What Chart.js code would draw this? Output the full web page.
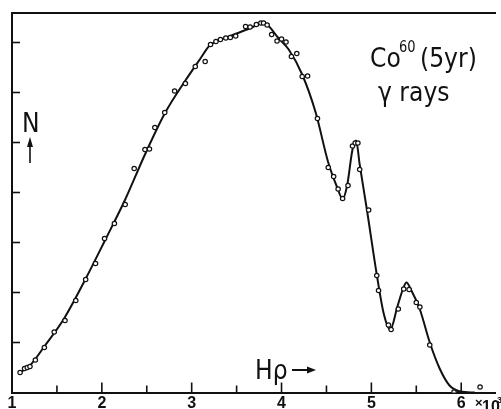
<!DOCTYPE html>
<html>
<head>
<meta charset="utf-8">
<script src="https://cdn.jsdelivr.net/npm/chart.js@4"></script>
<style>
  html, body { margin: 0; padding: 0; background: #fff; }
  #wrap { width: 501px; height: 409px; }
</style>
</head>
<body>
<div id="wrap"><canvas id="spectrum" width="501" height="409"></canvas></div>
<script>
// Co60 gamma ray spectrum, counts N against H-rho (x10^3)

// measured points (open circles)
const hrho = [1.09, 1.14, 1.17, 1.20, 1.26, 1.36, 1.47, 1.59, 1.71, 1.82, 1.93, 2.03, 2.14, 2.26, 2.36,
  2.48, 2.53, 2.59, 2.70, 2.81, 2.93, 3.04, 3.15, 3.21, 3.27, 3.32, 3.38, 3.43, 3.49, 3.60, 3.65,
  3.72, 3.77, 3.80, 3.84, 3.89, 3.95, 4.00, 4.05, 4.11, 4.17, 4.23, 4.29, 4.40, 4.52, 4.58, 4.63,
  4.68, 4.74, 4.79, 4.82, 4.85, 4.87, 4.97, 5.06, 5.08, 5.19, 5.22, 5.30, 5.36, 5.42, 5.50, 5.54,
  5.65, 5.92, 6.21];
const counts = [0.40, 0.48, 0.50, 0.52, 0.65, 0.90, 1.21, 1.44, 1.84, 2.26, 2.58, 3.08, 3.38, 3.76, 4.48,
  4.86, 4.87, 5.30, 5.60, 6.03, 6.18, 6.52, 6.62, 6.96, 7.02, 7.06, 7.09, 7.10, 7.13, 7.32, 7.31,
  7.36, 7.39, 7.39, 7.35, 7.16, 7.03, 7.07, 7.01, 6.72, 6.78, 6.32, 6.33, 5.48, 4.50, 4.32, 4.07,
  3.88, 4.14, 4.93, 4.99, 4.99, 4.46, 3.65, 2.34, 2.04, 1.35, 1.26, 1.67, 2.07, 2.06, 1.80, 1.71,
  0.95, 0.01, 0.11];

// hand drawn smooth curve
const curveHrho = [1.09, 1.20, 1.36, 1.58, 1.81, 2.04, 2.26, 2.48, 2.70, 2.93, 3.09, 3.20, 3.33, 3.50,
  3.67, 3.79, 3.85, 3.96, 4.08, 4.23, 4.38, 4.52, 4.62, 4.68, 4.73, 4.79, 4.83, 4.87, 4.95, 5.06,
  5.14, 5.21, 5.29, 5.35, 5.39, 5.44, 5.54, 5.65, 5.76, 5.87, 5.99, 6.15];
const curveN = [0.40, 0.54, 0.92, 1.48, 2.24, 3.06, 3.86, 4.76, 5.58, 6.24, 6.66, 6.94, 7.06, 7.18,
  7.30, 7.39, 7.34, 7.10, 6.86, 6.36, 5.60, 4.60, 4.10, 3.87, 4.14, 4.86, 5.04, 4.56, 3.66, 2.36,
  1.56, 1.26, 1.72, 2.06, 2.20, 2.06, 1.66, 1.00, 0.48, 0.14, 0.02, 0.00];

const xTickLabels = ['1', '2', '3', '4', '5', '6'];

const xMin = 1, xMax = 6.385, yMax = 7.6;
const ink = '#111';

// narrow hand lettering: squeeze the text horizontally
function letter(ctx, text, x, y, size) {
  ctx.save();
  ctx.font = size + 'px "DejaVu Sans", sans-serif';
  ctx.translate(x, y);
  ctx.scale(0.87, 1);
  ctx.fillText(text, 0, 0);
  ctx.restore();
}

// inner tick marks, axis labels and the title lettering
const lettering = {
  id: 'lettering',
  afterDraw(chart) {
    const { ctx, chartArea } = chart;
    const x = chart.scales.x, y = chart.scales.y;
    ctx.save();
    ctx.strokeStyle = ink;
    ctx.fillStyle = ink;
    ctx.lineWidth = 1.6;

    x.ticks.forEach(t => {
      if (t.value <= xMin || (t.value * 2) % 1 !== 0) return;
      const px = x.getPixelForValue(t.value);
      const len = Number.isInteger(t.value) ? 10 : 7;
      ctx.beginPath();
      ctx.moveTo(px, chartArea.bottom);
      ctx.lineTo(px, chartArea.bottom - len);
      ctx.stroke();
    });
    y.ticks.forEach(t => {
      if (t.value <= 0 || !Number.isInteger(t.value)) return;
      const py = y.getPixelForValue(t.value);
      ctx.beginPath();
      ctx.moveTo(chartArea.left, py);
      ctx.lineTo(chartArea.left + 8, py);
      ctx.stroke();
    });

    ctx.textBaseline = 'alphabetic';
    ctx.textAlign = 'left';

    letter(ctx, 'Co', 370, 67, 27);
    letter(ctx, '60', 399, 52, 15);
    letter(ctx, '(5yr)', 420, 67, 27);
    letter(ctx, '\u03b3 rays', 378, 101, 27);
    letter(ctx, 'N', 22, 132, 27);

    ctx.beginPath();
    ctx.lineWidth = 1.6;
    ctx.moveTo(30, 163);
    ctx.lineTo(30, 144);
    ctx.stroke();
    ctx.beginPath();
    ctx.moveTo(27, 147);
    ctx.lineTo(30, 137);
    ctx.lineTo(33, 147);
    ctx.closePath();
    ctx.fill();

    letter(ctx, 'H\u03c1', 255, 379, 27);
    ctx.lineWidth = 2;
    ctx.beginPath();
    ctx.moveTo(292, 370);
    ctx.lineTo(309, 370);
    ctx.stroke();
    ctx.beginPath();
    ctx.moveTo(307, 366.5);
    ctx.lineTo(316, 370);
    ctx.lineTo(307, 373.5);
    ctx.closePath();
    ctx.fill();

    ctx.font = 'bold 13px "Liberation Sans", sans-serif';
    ctx.fillText('\u00d7', 475, 407);
    ctx.font = 'bold 16px "Liberation Sans", sans-serif';
    ctx.fillText('10', 482, 412);
    ctx.font = 'bold 9px "Liberation Sans", sans-serif';
    ctx.fillText('3', 497, 403);
    ctx.restore();
  }
};

new Chart(document.getElementById('spectrum'), {
  type: 'scatter',
  data: {
    datasets: [
      {
        type: 'line',
        label: 'curve',
        data: curveHrho.map((v, i) => ({ x: v, y: curveN[i] })),
        borderColor: ink,
        borderWidth: 2,
        pointRadius: 0,
        cubicInterpolationMode: 'monotone',
        fill: false,
        order: 2
      },
      {
        label: 'measured',
        data: hrho.map((v, i) => ({ x: v, y: counts[i] })),
        pointRadius: 2.2,
        pointBorderWidth: 1.2,
        pointBorderColor: ink,
        pointBackgroundColor: '#fff',
        order: 1
      }
    ]
  },
  options: {
    responsive: false,
    animation: false,
    devicePixelRatio: 1,
    layout: { padding: { left: 12, top: 12, right: 0, bottom: 0 } },
    plugins: { legend: { display: false }, tooltip: { enabled: false } },
    scales: {
      x: {
        type: 'linear',
        min: xMin,
        max: xMax,
        afterFit: s => { s.height = 16.5; },
        grid: { drawOnChartArea: false, drawTicks: false },
        border: { display: true, color: ink, width: 2 },
        ticks: {
          stepSize: 0.5,
          includeBounds: false,
          autoSkip: false,
          maxRotation: 0,
          padding: 1,
          color: ink,
          font: { family: '"Liberation Sans", sans-serif', size: 16, weight: 'bold' },
          callback: v => Number.isInteger(v) ? xTickLabels[v - 1] : ''
        }
      },
      xTop: {
        type: 'linear',
        position: 'top',
        min: xMin,
        max: xMax,
        afterFit: s => { s.height = 0.5; },
        grid: { drawOnChartArea: false, drawTicks: false },
        border: { display: true, color: ink, width: 2 },
        ticks: { display: false }
      },
      y: {
        min: 0,
        max: yMax,
        afterFit: s => { s.width = 0; },
        grid: { drawOnChartArea: false, drawTicks: false },
        border: { display: true, color: ink, width: 2 },
        ticks: { display: false, stepSize: 1 }
      }
    }
  },
  plugins: [lettering]
});
</script>
</body>
</html>
